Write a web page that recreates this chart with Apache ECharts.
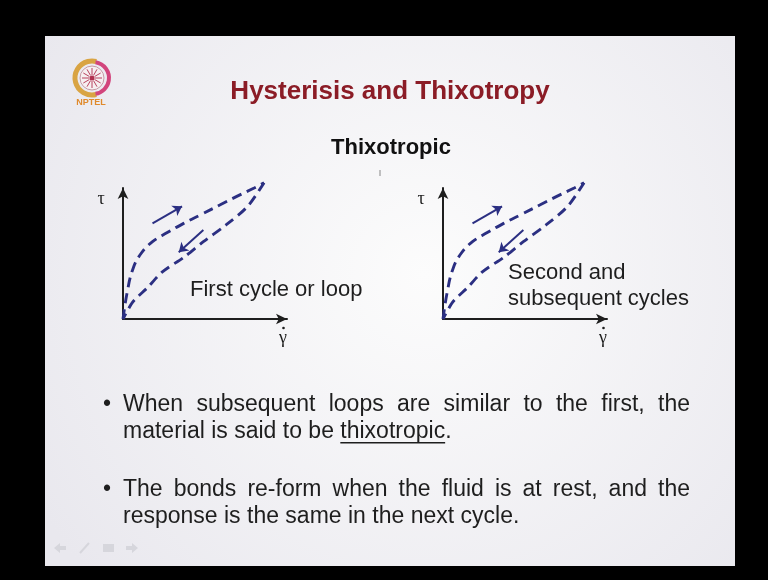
<!DOCTYPE html>
<html>
<head>
<meta charset="utf-8">
<script src="https://cdn.jsdelivr.net/npm/echarts@6/dist/echarts.min.js"></script>
<style>
  html, body { margin: 0; padding: 0; background: #000; }
  #chart { width: 768px; height: 580px; }
</style>
</head>
<body>
<div id="chart"></div>
<script>
// Loading branch of the flow curve (shear rate -> shear stress), arbitrary units
const upX   = [0, 0.25, 0.6, 1.1, 1.8, 2.7, 3.7, 4.8, 5.9, 7.0, 8.0, 8.6];
const upY   = [0, 2.0, 3.8, 5.0, 5.9, 6.6, 7.3, 8.0, 8.7, 9.4, 10.0, 10.4];
// Unloading branch, traced back down to the origin
const downX = [8.6, 7.6, 6.3, 4.9, 3.7, 2.4, 1.5, 0.6, 0];
const downY = [10.4, 8.6, 7.2, 5.9, 4.7, 3.6, 2.4, 1.3, 0];
// Direction arrows beside each branch: [start, end]
const arrowUp   = [[1.8, 7.3], [3.6, 8.6]];
const arrowDown = [[4.9, 6.8], [3.4, 5.1]];

const panelLabels = [
  ['First cycle or loop'],
  ['Second and', 'subsequent cycles']
];
const bulletLines = [
  [
    { text: 'When subsequent loops are similar to the first, the', justify: true },
    { text: 'material is said to be thixotropic.', underline: 'thixotropic' }
  ],
  [
    { text: 'The bonds re-form when the fluid is at rest, and the', justify: true },
    { text: 'response is the same in the next cycle.' }
  ]
];

const NAVY = '#2b2f82';
const INK = '#1e1e1e';
const BODY_FONT = '23px "Liberation Sans", Arial, sans-serif';
const LABEL_FONT = '22px "Liberation Sans", Arial, sans-serif';

const measureCtx = document.createElement('canvas').getContext('2d');
function measure(txt, font) { measureCtx.font = font; return measureCtx.measureText(txt).width; }

function zip(xs, ys) { return xs.map((x, i) => [x, ys[i]]); }

// Lay out one line of body text word by word (optionally justified)
function textLine(line, x0, x1, y, font) {
  const words = line.text.split(' ');
  const widths = words.map(w => measure(w, font));
  const total = widths.reduce((a, b) => a + b, 0);
  const gap = line.justify ? (x1 - x0 - total) / (words.length - 1) : measure(' ', font);
  const out = [];
  let x = x0;
  words.forEach((w, i) => {
    out.push({ type: 'text', z: 5, style: { text: w, x: x, y: y, font: font, fill: INK, verticalAlign: 'middle' } });
    if (line.underline && w.indexOf(line.underline) === 0) {
      out.push({ type: 'rect', z: 5, shape: { x: x, y: y + 10, width: measure(line.underline, font), height: 1.4 }, style: { fill: INK } });
    }
    x += widths[i] + gap;
  });
  return out;
}

const graphics = [];

// Slide face
graphics.push({
  type: 'rect', z: -10,
  shape: { x: 45, y: 36, width: 690, height: 530 },
  style: {
    fill: new echarts.graphic.RadialGradient(0.55, 0.45, 0.85, [
      { offset: 0, color: '#fcfcfc' },
      { offset: 1, color: '#e9e8ee' }
    ])
  }
});

// Institute emblem
const lc = [92, 78];
graphics.push(
  { type: 'circle', z: 1, shape: { cx: lc[0], cy: lc[1], r: 12 }, style: { fill: '#f6eff1', stroke: '#c79aa6', lineWidth: 1 } },
  { type: 'arc', z: 2, shape: { cx: lc[0], cy: lc[1], r: 17, startAngle: Math.PI * 0.42, endAngle: Math.PI * 1.58 }, style: { stroke: '#d9a443', lineWidth: 5, fill: null } },
  { type: 'arc', z: 2, shape: { cx: lc[0] + 1, cy: lc[1], r: 16, startAngle: -Math.PI * 0.45, endAngle: Math.PI * 0.45 }, style: { stroke: '#d2457c', lineWidth: 4, fill: null } },
  { type: 'circle', z: 3, shape: { cx: lc[0], cy: lc[1], r: 2.5 }, style: { fill: '#b0304f' } },
  { type: 'text', z: 3, style: { text: 'NPTEL', x: 91, y: 103, font: 'bold 9px "Liberation Sans", Arial, sans-serif', fill: '#e08a2c', align: 'center', verticalAlign: 'middle' } }
);
for (let k = 0; k < 12; k++) {
  const a = k * Math.PI / 6;
  graphics.push({
    type: 'line', z: 3,
    shape: { x1: lc[0] + 3 * Math.cos(a), y1: lc[1] + 3 * Math.sin(a), x2: lc[0] + 10 * Math.cos(a), y2: lc[1] + 10 * Math.sin(a) },
    style: { stroke: '#b8405e', lineWidth: 1 }
  });
}

// Headings
graphics.push(
  { type: 'text', z: 5, style: { text: 'Hysterisis and Thixotropy', x: 390, y: 92, font: 'bold 26px "Liberation Sans", Arial, sans-serif', fill: '#8b1c26', align: 'center', verticalAlign: 'middle' } },
  { type: 'text', z: 5, style: { text: 'Thixotropic', x: 391, y: 148, font: 'bold 22px "Liberation Sans", Arial, sans-serif', fill: '#111', align: 'center', verticalAlign: 'middle' } },
  { type: 'rect', z: 5, shape: { x: 379.5, y: 170, width: 1, height: 6 }, style: { fill: '#888' } }
);

// Axis symbols and captions of the two panels
const panelLeft = [123, 443];
const originY = 319;
panelLeft.forEach((px, p) => {
  graphics.push(
    { type: 'text', z: 5, style: { text: '\u03C4', x: px - 22, y: originY - 120, font: '18px "Liberation Serif", "DejaVu Serif", serif', fill: INK, align: 'center', verticalAlign: 'middle' } },
    { type: 'text', z: 5, style: { text: '\u03B3', x: px + 160, y: originY + 19, font: '18px "Liberation Serif", "DejaVu Serif", serif', fill: INK, align: 'center', verticalAlign: 'middle' } },
    { type: 'circle', z: 5, shape: { cx: px + 160.5, cy: originY + 9, r: 1.3 }, style: { fill: INK } }
  );
  const lines = panelLabels[p];
  const lx = p === 0 ? 190 : 508;
  const ly = p === 0 ? [290] : [273, 299];
  lines.forEach((t, i) => {
    graphics.push({ type: 'text', z: 5, style: { text: t, x: lx, y: ly[i], font: LABEL_FONT, fill: INK, verticalAlign: 'middle' } });
  });
});

// Bullet paragraphs
const bulletY = [[405, 432], [490, 517]];
bulletLines.forEach((para, b) => {
  graphics.push({ type: 'text', z: 5, style: { text: '\u2022', x: 103, y: bulletY[b][0], font: BODY_FONT, fill: INK, verticalAlign: 'middle' } });
  para.forEach((line, i) => {
    textLine(line, 123, 690, bulletY[b][i], BODY_FONT).forEach(g => graphics.push(g));
  });
});

// Faint slide-navigation icons
const iconC = '#d6d6dc';
graphics.push(
  { type: 'polygon', z: 1, shape: { points: [[54, 548], [60, 543], [60, 546], [66, 546], [66, 550], [60, 550], [60, 553]] }, style: { fill: iconC } },
  { type: 'line', z: 1, shape: { x1: 80, y1: 553, x2: 89, y2: 543 }, style: { stroke: iconC, lineWidth: 2 } },
  { type: 'rect', z: 1, shape: { x: 103, y: 544, width: 11, height: 8 }, style: { fill: iconC } },
  { type: 'polygon', z: 1, shape: { points: [[138, 548], [132, 543], [132, 546], [126, 546], [126, 550], [132, 550], [132, 553]] }, style: { fill: iconC } }
);

// Two cartesian panels with arrow-tipped axes
const grids = panelLeft.map(px => ({ left: px, top: 188, width: 164, height: 131 }));
const axisCommon = {
  type: 'value', min: 0, max: 10,
  axisTick: { show: false }, axisLabel: { show: false }, splitLine: { show: false }
};
const axisLineStyle = { show: true, onZero: false, symbol: ['none', 'arrow'], symbolSize: [8, 11], lineStyle: { color: INK, width: 2 } };
const xAxes = panelLeft.map((_, p) => Object.assign({}, axisCommon, { gridIndex: p, axisLine: axisLineStyle }));
const yAxes = panelLeft.map((_, p) => Object.assign({}, axisCommon, { gridIndex: p, axisLine: axisLineStyle }));

const series = [];
panelLeft.forEach((_, p) => {
  const dashed = { color: NAVY, width: 2.9, type: [10, 6] };
  series.push(
    { type: 'line', xAxisIndex: p, yAxisIndex: p, data: zip(upX, upY), smooth: 0.45, showSymbol: false, clip: false, silent: true, lineStyle: dashed },
    { type: 'line', xAxisIndex: p, yAxisIndex: p, data: zip(downX, downY), smooth: 0.3, showSymbol: false, clip: false, silent: true, lineStyle: dashed },
    {
      type: 'lines', coordinateSystem: 'cartesian2d', xAxisIndex: p, yAxisIndex: p, silent: true,
      symbol: ['none', 'arrow'], symbolSize: 9,
      lineStyle: { color: NAVY, width: 2, opacity: 1 },
      data: [{ coords: arrowUp }, { coords: arrowDown }]
    }
  );
});

const chart = echarts.init(document.getElementById('chart'), null, { renderer: 'canvas' });
chart.setOption({
  backgroundColor: '#000',
  animation: false,
  grid: grids,
  xAxis: xAxes,
  yAxis: yAxes,
  series: series,
  graphic: { elements: graphics }
});
</script>
</body>
</html>
